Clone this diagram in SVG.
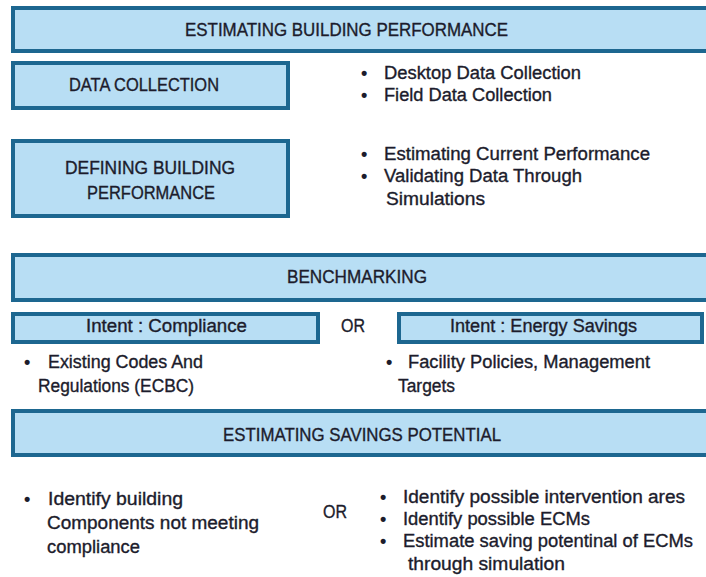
<svg xmlns="http://www.w3.org/2000/svg" width="706" height="577" viewBox="0 0 706 577">
  <style>
    .box { fill: #b8def4; stroke: #1d6790; stroke-width: 4; }
    .t { font-family: "Liberation Sans", Arial, sans-serif; font-size: 18px; fill: #1c1c2c; stroke: #1c1c2c; stroke-width: 0.35; }
    .b { font-family: "Liberation Sans", Arial, sans-serif; font-size: 18px; font-weight: bold; fill: #1c1c2c; }
  </style>
  <rect width="706" height="577" fill="#ffffff"/>

  <g id="estimating-building-performance">
    <rect class="box" x="13" y="8" width="696" height="43"/>
    <text class="t" x="185" y="36" textLength="323" lengthAdjust="spacingAndGlyphs">ESTIMATING BUILDING PERFORMANCE</text>
  </g>

  <g id="data-collection">
    <rect class="box" x="13" y="63" width="275" height="45"/>
    <text class="t" x="69" y="91" textLength="150" lengthAdjust="spacingAndGlyphs">DATA COLLECTION</text>
  </g>
  <g id="data-collection-items">
    <text class="b" x="361" y="79">•</text>
    <text class="t" x="384" y="79" textLength="197" lengthAdjust="spacingAndGlyphs">Desktop Data Collection</text>
    <text class="b" x="361" y="101">•</text>
    <text class="t" x="384" y="101" textLength="168" lengthAdjust="spacingAndGlyphs">Field Data Collection</text>
  </g>

  <g id="defining-building-performance">
    <rect class="box" x="13" y="141" width="275" height="75"/>
    <text class="t" x="65" y="174" textLength="170" lengthAdjust="spacingAndGlyphs">DEFINING BUILDING</text>
    <text class="t" x="87" y="199" textLength="128" lengthAdjust="spacingAndGlyphs">PERFORMANCE</text>
  </g>
  <g id="defining-items">
    <text class="b" x="361" y="160">•</text>
    <text class="t" x="384" y="160" textLength="266" lengthAdjust="spacingAndGlyphs">Estimating Current Performance</text>
    <text class="b" x="361" y="182">•</text>
    <text class="t" x="384" y="182" textLength="198" lengthAdjust="spacingAndGlyphs">Validating Data Through</text>
    <text class="t" x="386" y="205" textLength="99" lengthAdjust="spacingAndGlyphs">Simulations</text>
  </g>

  <g id="benchmarking">
    <rect class="box" x="13" y="255" width="696" height="45"/>
    <text class="t" x="287" y="283" textLength="140" lengthAdjust="spacingAndGlyphs">BENCHMARKING</text>
  </g>

  <g id="intent-compliance">
    <rect class="box" x="13" y="314" width="305" height="28"/>
    <text class="t" x="86" y="332" textLength="161" lengthAdjust="spacingAndGlyphs">Intent : Compliance</text>
  </g>
  <g id="or-intent">
    <text class="t" x="341" y="332" textLength="24" lengthAdjust="spacingAndGlyphs">OR</text>
  </g>
  <g id="intent-energy-savings">
    <rect class="box" x="399" y="314" width="303" height="28"/>
    <text class="t" x="450" y="332" textLength="187" lengthAdjust="spacingAndGlyphs">Intent : Energy Savings</text>
  </g>

  <g id="compliance-items">
    <text class="b" x="24" y="368">•</text>
    <text class="t" x="48" y="368" textLength="155" lengthAdjust="spacingAndGlyphs">Existing Codes And</text>
    <text class="t" x="38" y="392" textLength="156" lengthAdjust="spacingAndGlyphs">Regulations (ECBC)</text>
  </g>
  <g id="energy-savings-items">
    <text class="b" x="386" y="368">•</text>
    <text class="t" x="408" y="368" textLength="242" lengthAdjust="spacingAndGlyphs">Facility Policies, Management</text>
    <text class="t" x="398" y="392" textLength="57" lengthAdjust="spacingAndGlyphs">Targets</text>
  </g>

  <g id="estimating-savings-potential">
    <rect class="box" x="13" y="411" width="696" height="44"/>
    <text class="t" x="223" y="441" textLength="278" lengthAdjust="spacingAndGlyphs">ESTIMATING SAVINGS POTENTIAL</text>
  </g>

  <g id="compliance-savings">
    <text class="b" x="24" y="505">•</text>
    <text class="t" x="48" y="505" textLength="135" lengthAdjust="spacingAndGlyphs">Identify building</text>
    <text class="t" x="47" y="529" textLength="212" lengthAdjust="spacingAndGlyphs">Components not meeting</text>
    <text class="t" x="47" y="553" textLength="93" lengthAdjust="spacingAndGlyphs">compliance</text>
  </g>
  <g id="or-savings">
    <text class="t" x="323" y="518" textLength="24" lengthAdjust="spacingAndGlyphs">OR</text>
  </g>
  <g id="energy-savings-measures">
    <text class="b" x="380" y="503">•</text>
    <text class="t" x="403" y="503" textLength="282" lengthAdjust="spacingAndGlyphs">Identify possible intervention ares</text>
    <text class="b" x="380" y="525">•</text>
    <text class="t" x="403" y="525" textLength="187" lengthAdjust="spacingAndGlyphs">Identify possible ECMs</text>
    <text class="b" x="380" y="547">•</text>
    <text class="t" x="403" y="547" textLength="290" lengthAdjust="spacingAndGlyphs">Estimate saving potentinal of ECMs</text>
    <text class="t" x="408" y="570" textLength="157" lengthAdjust="spacingAndGlyphs">through simulation</text>
  </g>
</svg>
